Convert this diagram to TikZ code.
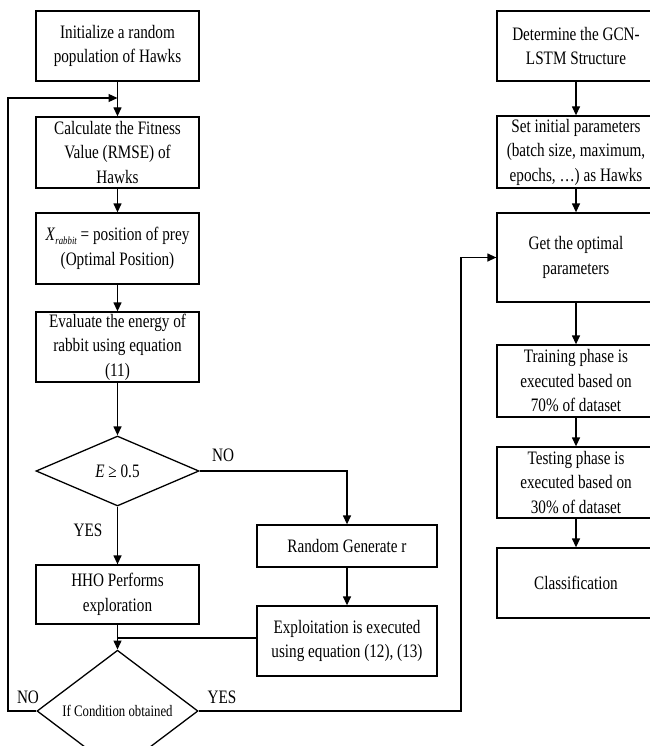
\documentclass[tikz,border=0pt]{standalone}
\usepackage{fontspec}
\setmainfont{Liberation Serif}[FakeStretch=0.8]
\usetikzlibrary{arrows.meta,shapes.geometric}
\newcommand{\mainfs}{\fontsize{19}{24.5}\selectfont}
\newcommand{\smallfs}{\fontsize{16}{18}\selectfont}
\tikzset{
  box/.style={draw, rectangle, align=center, inner sep=0pt, font=\mainfs},
  dia/.style={draw, diamond, align=center, inner sep=0pt},
  arr/.style={-{Triangle[length=9pt,width=8pt]}},
  lbl/.style={font=\mainfs, inner sep=0pt},
}
\begin{document}
\begin{tikzpicture}[x=1pt,y=-1pt,line width=1.3pt]
\useasboundingbox (0,0) rectangle (649,746);
% left column
\node[box, minimum width=163pt, minimum height=70pt] (init) at (117.5,46) {Initialize a random\\population of Hawks};
\node[box, minimum width=163pt, minimum height=71pt] (calc) at (117.5,152.5) {Calculate the Fitness\\Value (RMSE) of\\Hawks};
\node[box, minimum width=163pt, minimum height=71pt] (xr) at (117.5,248.5) {\textit{X}\raisebox{-0.45ex}{\fontsize{11}{11}\selectfont\itshape rabbit} = position of prey\\(Optimal Position)};
\node[box, minimum width=163pt, minimum height=70pt] (eval) at (117.5,347) {Evaluate the energy of\\rabbit using equation\\(11)};
\node[dia, font=\mainfs, minimum width=163pt, minimum height=70pt] (d1) at (117.5,471) {\textit{E} ≥ 0.5};
\node[box, minimum width=163pt, minimum height=59pt] (hho) at (117.5,594.5) {HHO Performs\\exploration};
\node[dia, font=\smallfs, minimum width=161pt, minimum height=78pt] (d2) at (117.5,711) {If Condition obtained};
% middle column
\node[box, minimum width=180pt, minimum height=42pt] (rand) at (347,546) {Random Generate r};
\node[box, minimum width=180pt, minimum height=70pt] (expl) at (347,641) {Exploitation is executed\\using equation (12), (13)};
% right column
\node[box, minimum width=158pt, minimum height=70pt] (det) at (576,46) {Determine the GCN-\\LSTM Structure};
\node[box, minimum width=158pt, minimum height=72pt] (set) at (576,152) {Set initial parameters\\(batch size, maximum,\\epochs, …) as Hawks};
\node[box, minimum width=158pt, minimum height=89pt] (get) at (576,257.5) {Get the optimal\\parameters};
\node[box, minimum width=158pt, minimum height=72pt] (train) at (576,381) {Training phase is\\executed based on\\70\% of dataset};
\node[box, minimum width=158pt, minimum height=71pt] (test) at (576,482.5) {Testing phase is\\executed based on\\30\% of dataset};
\node[box, minimum width=158pt, minimum height=70pt] (cls) at (576,583) {Classification};
% coordinates
\coordinate (loopin) at (117.5,98);
\coordinate (loopcorner) at (8,711);
\coordinate (join) at (117.5,638);
\coordinate (yescorner) at (461,711);
% connectors left
\draw[arr] (init) -- (calc);
\draw[arr] (calc) -- (xr);
\draw[arr] (xr) -- (eval);
\draw[arr] (eval) -- (d1);
\draw[arr] (d1) -- (hho);
\draw[arr] (d1.east) -| (rand.north);
\draw[arr] (rand) -- (expl);
\draw (expl.west |- join) -- (join);
\draw[arr] (hho) -- (d2);
\draw[arr] (d2.west) -- (loopcorner) |- (loopin);
\draw[arr] (d2.east) -- (yescorner) |- (get.west);
% connectors right
\draw[arr] (det) -- (set);
\draw[arr] (set) -- (get);
\draw[arr] (get) -- (train);
\draw[arr] (train) -- (test);
\draw[arr] (test) -- (cls);
% labels
\node[lbl] (lno1) at (223,455) {NO};
\node[lbl] (lyes1) at (88,530) {YES};
\node[lbl] (lno2) at (28,697) {NO};
\node[lbl] (lyes2) at (222,697) {YES};
\end{tikzpicture}
\end{document}
